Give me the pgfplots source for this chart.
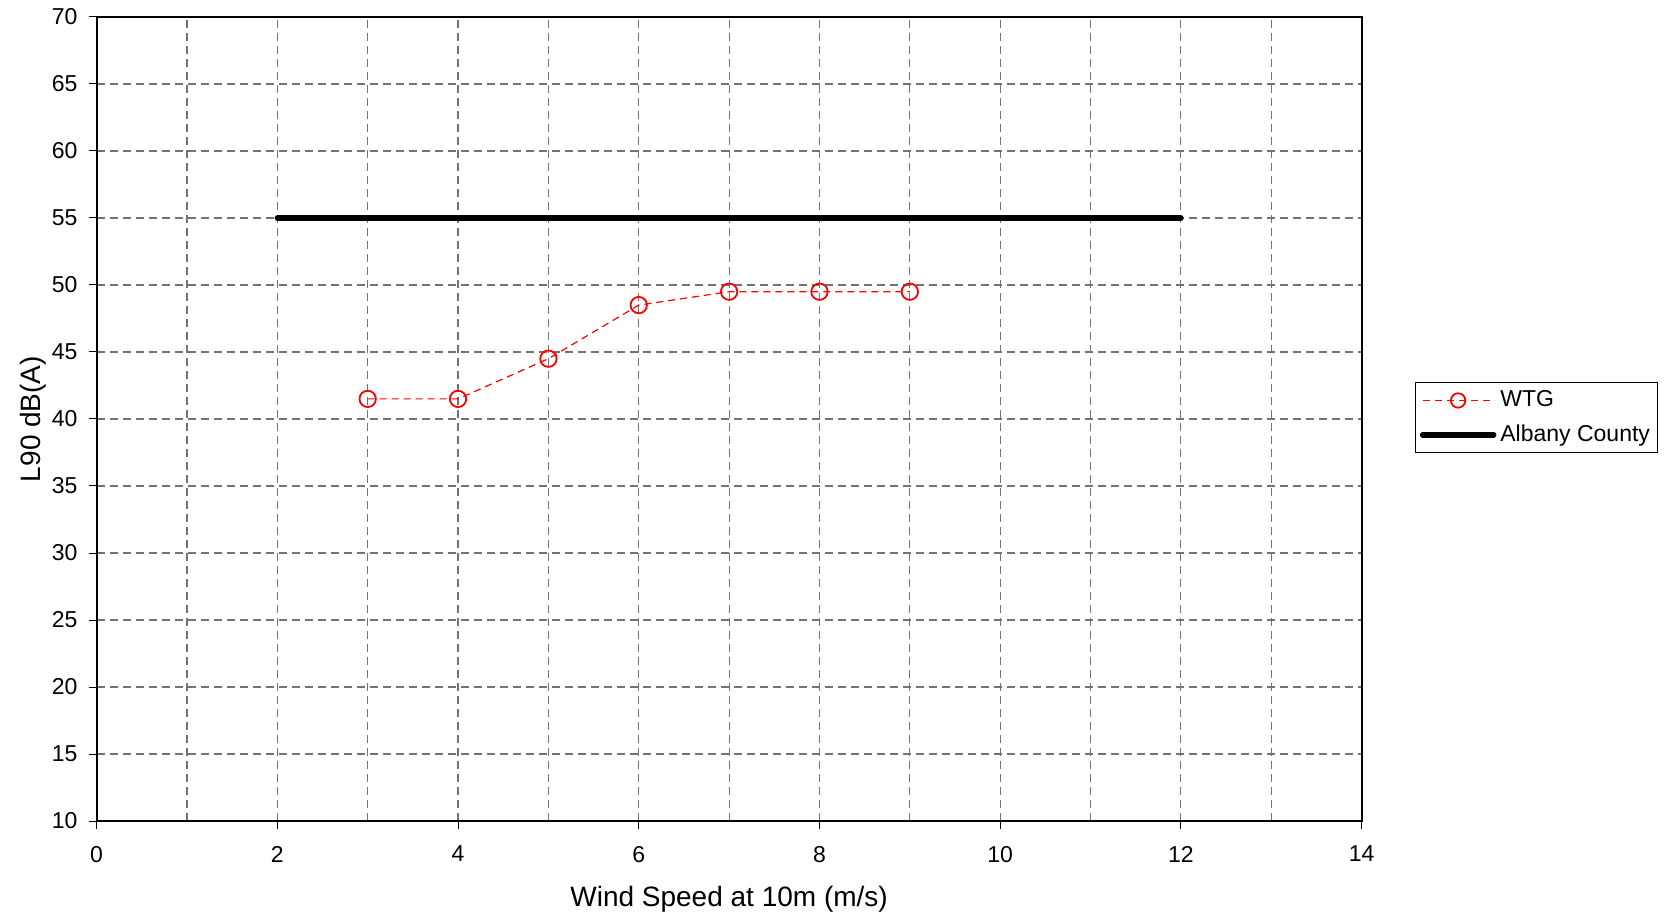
\documentclass[border=0pt]{standalone}
\usepackage{fontspec}
\setmainfont{Liberation Sans}
\usepackage{pgfplots}
\pgfplotsset{compat=1.18}
\begin{document}
\begin{tikzpicture}
\begin{axis}[
  name=ax,
  scale only axis,
  width=632.5pt, height=402pt,
  xmin=0, xmax=14, ymin=10, ymax=70,
  xtick={0,2,...,14}, ytick={10,15,...,70},
  minor xtick={1,3,...,13},
  grid=both,
  major grid style={black!55, line width=0.55pt, dash pattern=on 4pt off 2.5pt},
  minor grid style={black!55, line width=0.55pt, dash pattern=on 4pt off 2.5pt},
  axis line style={line width=1pt},
  tick style={black, line width=0.5pt},
  tick align=outside,
  major tick length=4pt,
  minor tick length=0pt,
  xtick pos=bottom, ytick pos=left,
  /pgf/number format/assume math mode=true,
  ticklabel style={font=\fontsize{11.5}{13}\selectfont},
  xticklabel style={yshift=-5pt},
  yticklabel style={xshift=-2pt},
  xlabel={Wind Speed at 10m (m/s)},
  ylabel={L90 dB(A)},
  label style={font=\fontsize{14}{16}\selectfont},
  xlabel style={at={(axis description cs:0.5,0)}, anchor=base, yshift=-42.5pt},
  ylabel style={at={(axis description cs:0,0.5)}, anchor=base, yshift=28pt},
  legend style={at={(rel axis cs:1.0425,0.5015)}, anchor=west, draw=black, line width=0.5pt,
    font=\fontsize{11.5}{13}\selectfont, inner sep=2pt, row sep=3.5pt, cells={anchor=west}},
  legend cell align=left,
]
\addplot[red, line width=0.6pt, dash pattern=on 3.5pt off 2.5pt,
  mark=o, mark size=4.1pt, mark options={solid, line width=0.9pt},
  legend image code/.code={
    \draw[red, line width=0.6pt, dash pattern=on 3.5pt off 2.5pt] (0cm,0cm) -- (1.25cm,0cm);
    \draw[red, line width=0.9pt, solid] (0.625cm,0cm) circle (3.6pt);
  }]
  coordinates {(3,41.5) (4,41.5) (5,44.5) (6,48.5) (7,49.5) (8,49.5) (9,49.5)};
\addlegendentry{WTG}
\addplot[black, line width=2.7pt, line cap=round,
  legend image code/.code={
    \draw[black, line width=2.7pt, line cap=round] (0cm,0cm) -- (1.25cm,0cm);
  }]
  coordinates {(2,55) (12,55)};
\addlegendentry{Albany County}
\end{axis}
\pgfresetboundingbox
\path[use as bounding box] ([xshift=-48.3pt,yshift=-47.5pt]ax.south west) rectangle ([xshift=784.2pt,yshift=8.5pt]ax.south west |- ax.north west);
\end{tikzpicture}
\end{document}
